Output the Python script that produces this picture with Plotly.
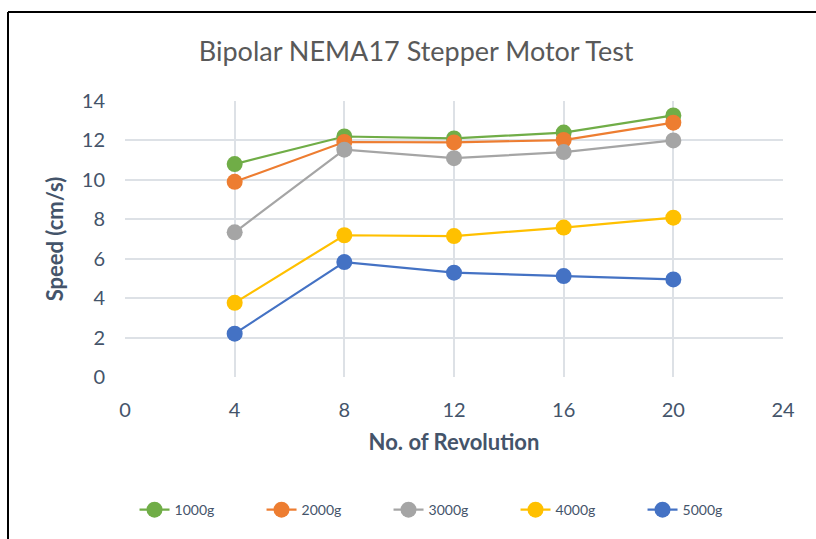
import plotly.graph_objects as go

revolutions = [4, 8, 12, 16, 20]
speed_1000g = [10.8, 12.2, 12.1, 12.4, 13.27]
speed_2000g = [9.9, 11.92, 11.9, 12.02, 12.9]
speed_3000g = [7.34, 11.53, 11.1, 11.41, 12.0]
speed_4000g = [3.76, 7.19, 7.15, 7.58, 8.08]
speed_5000g = [2.2, 5.83, 5.29, 5.12, 4.95]
series_names = ["1000g", "2000g", "3000g", "4000g", "5000g"]
series_values = [speed_1000g, speed_2000g, speed_3000g, speed_4000g, speed_5000g]
colors = ["#70AD47", "#ED7D31", "#A5A5A5", "#FFC000", "#4472C4"]

fig = go.Figure()
for name, vals, c in zip(series_names, series_values, colors):
    fig.add_trace(go.Scatter(
        x=revolutions, y=vals, name=name, mode="lines+markers",
        line=dict(color=c, width=2.2),
        marker=dict(color=c, size=16),
    ))

text_color = "#44546A"
fig.update_layout(
    width=816, height=539,
    margin=dict(l=125, r=33, t=101, b=162),
    paper_bgcolor="white", plot_bgcolor="white",
    font=dict(family="Lato, Calibri, sans-serif", color=text_color),
    title=dict(text="Bipolar NEMA17 Stepper Motor Test", x=0.51, xanchor="center",
               y=0.905, yanchor="middle",
               font=dict(size=27, color="#595959", family="Lato, sans-serif")),
    xaxis=dict(range=[0, 24], tick0=0, dtick=4, showgrid=True, gridcolor="#DDE1E6", gridwidth=1.5,
               zeroline=False, showline=False, ticks="", tickfont=dict(size=20, color=text_color),
               ticklabelstandoff=19,
               title=dict(text="<b>No. of Revolution</b>", font=dict(size=22, color=text_color), standoff=14)),
    yaxis=dict(range=[0, 14], tick0=0, dtick=2, showgrid=True, gridcolor="#DDE1E6", gridwidth=1.5,
               zeroline=False, showline=False, ticks="", tickfont=dict(size=20, color=text_color),
               ticklabelstandoff=19,
               title=dict(text="<b>Speed (cm/s)</b>", font=dict(size=22, color=text_color), standoff=12)),
    legend=dict(orientation="h", x=0.497, xanchor="center", y=-0.482, yanchor="middle",
                font=dict(size=14, color=text_color), entrywidth=82, entrywidthmode="pixels",
                traceorder="normal"),
    showlegend=True,
)
# chart-area frame (only left and top edges are visible in the reference)
fx0 = (8 - 125) / 658
fy1 = (377 - 12) / 276
fig.add_shape(type="line", xref="paper", yref="paper",
              x0=fx0, x1=(900 - 125) / 658, y0=fy1, y1=fy1,
              line=dict(color="black", width=2), layer="above")
fig.add_shape(type="line", xref="paper", yref="paper",
              x0=fx0, x1=fx0, y0=(377 - 600) / 276, y1=fy1,
              line=dict(color="black", width=2), layer="above")

fig.write_html("out.html", config={"displayModeBar": False},
               post_script="document.body.style.margin='0';document.body.style.overflow='hidden';")
